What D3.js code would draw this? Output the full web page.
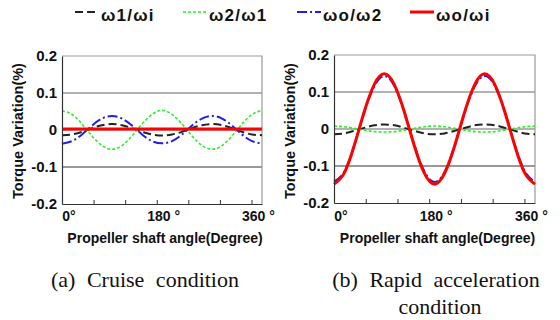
<!DOCTYPE html>
<meta charset="utf-8">
<style>
body { margin: 0; background: #fff; }
text { font-family: "Liberation Sans", Arial, sans-serif; }
.lbl { font-weight: bold; fill: #111; }
.cap { font-family: "Liberation Serif", "Times New Roman", serif; font-weight: normal; fill: #111; }
</style>
<body>
<script src="https://d3js.org/d3.v7.min.js"></script>
<script>
// sample angles (axis degrees)
var angles = [0, 19, 38, 57, 76, 95, 114, 133, 152, 171, 190, 209, 228, 247, 266, 285, 304, 323, 342, 361, 380];

// (a) cruise condition
var cruiseW1 = [-0.014, -0.012, -0.005, 0.005, 0.013, 0.016, 0.013, 0.005, -0.005, -0.012, -0.015, -0.012, -0.005, 0.005, 0.013, 0.016, 0.013, 0.005, -0.005, -0.012, -0.014];
var cruiseW2 = [0.052, 0.042, 0.016, -0.016, -0.042, -0.052, -0.042, -0.016, 0.016, 0.042, 0.053, 0.042, 0.016, -0.016, -0.042, -0.052, -0.042, -0.016, 0.016, 0.042, 0.053];
var cruiseWo2 = [-0.037, -0.030, -0.012, 0.012, 0.031, 0.038, 0.031, 0.012, -0.012, -0.030, -0.036, -0.030, -0.012, 0.012, 0.031, 0.038, 0.031, 0.012, -0.012, -0.030, -0.036];
var cruiseWoi = [0.003, 0.003, 0.003, 0.003, 0.003, 0.003, 0.003, 0.003, 0.003, 0.003, 0.003, 0.003, 0.003, 0.003, 0.003, 0.003, 0.003, 0.003, 0.003, 0.003, 0.003];

// (b) rapid acceleration
var rapidW1 = [-0.014, -0.012, -0.005, 0.003, 0.010, 0.012, 0.010, 0.003, -0.005, -0.012, -0.014, -0.012, -0.005, 0.003, 0.010, 0.012, 0.010, 0.003, -0.005, -0.012, -0.014];
var rapidW2 = [0.008, 0.006, 0.002, -0.003, -0.007, -0.008, -0.007, -0.003, 0.002, 0.006, 0.008, 0.006, 0.002, -0.003, -0.007, -0.008, -0.007, -0.003, 0.002, 0.006, 0.008];
var rapidWo2 = [-0.142, -0.116, -0.045, 0.044, 0.115, 0.143, 0.116, 0.045, -0.044, -0.115, -0.143, -0.116, -0.045, 0.044, 0.115, 0.143, 0.116, 0.045, -0.044, -0.115, -0.143];
var rapidWoi = [-0.149, -0.120, -0.046, 0.046, 0.120, 0.149, 0.120, 0.046, -0.046, -0.120, -0.149, -0.120, -0.046, 0.046, 0.120, 0.149, 0.120, 0.046, -0.046, -0.120, -0.149];

var seriesNames = ["ω1/ωi", "ω2/ω1", "ωo/ω2", "ωo/ωi"];
var yTicks = [-0.2, -0.1, 0, 0.1, 0.2];
var yTickLabels = ["-0.2", "-0.1", "0", "0.1", "0.2"];
var xTicks = [0, 60, 120, 180, 240, 300, 360];
var xLabelTicks = [0, 180, 360];
var xTickLabels = ["0°", "180 °", "360 °"];

var styles = [
  {color: "#222", width: 2, dash: "8,4"},
  {color: "#2af02a", width: 1.6, dash: "3,2"},
  {color: "#1f1fe6", width: 2, dash: "10,3,2,3"},
  {color: "#ff0000", width: 3, dash: null}
];

var svg = d3.select("body").append("svg")
    .attr("width", 560)
    .attr("height", 320);

// legend
var legX = [75, 183, 297, 410];
var leg = svg.append("g");
seriesNames.forEach(function(n, i) {
  var s = styles[i];
  leg.append("line")
    .attr("x1", legX[i]).attr("x2", legX[i] + 24)
    .attr("y1", 12).attr("y2", 12)
    .attr("stroke", s.color).attr("stroke-width", s.width)
    .attr("stroke-dasharray", s.dash);
  leg.append("text").attr("class", "lbl")
    .attr("x", legX[i] + 26).attr("y", 21)
    .style("font-size", "17px")
    .style("letter-spacing", "1.2px")
    .text(n);
});

function panel(box, data, caption) {
  var x = d3.scaleLinear().domain([0, 380]).range([box.left, box.left + box.w]);
  var y = d3.scaleLinear().domain([-0.2, 0.2]).range([box.top + box.h, box.top]);
  var g = svg.append("g");

  // grid lines
  g.selectAll(".grid").data([-0.1, 0, 0.1]).enter().append("line")
    .attr("x1", box.left).attr("x2", box.left + box.w)
    .attr("y1", function(d) { return y(d); }).attr("y2", function(d) { return y(d); })
    .attr("stroke", function(d) { return d == -0.1 ? "#333" : "#666"; })
    .attr("stroke-width", 1.2);

  // frame top/right
  g.append("path")
    .attr("d", "M" + box.left + "," + box.top + "H" + (box.left + box.w) + "V" + (box.top + box.h))
    .attr("fill", "none").attr("stroke", "#999").attr("stroke-width", 1.2);

  // curves
  var line = d3.line()
    .x(function(d) { return x(d[0]); })
    .y(function(d) { return y(d[1]); })
    .curve(d3.curveNatural);
  data.forEach(function(vals, i) {
    var s = styles[i];
    g.append("path")
      .datum(angles.map(function(a, k) { return [a, vals[k]]; }))
      .attr("d", line)
      .attr("fill", "none")
      .attr("stroke", s.color)
      .attr("stroke-width", s.width)
      .attr("stroke-dasharray", s.dash);
  });

  // y axis
  var ya = g.append("g")
    .attr("transform", "translate(" + box.left + ",0)")
    .call(d3.axisLeft(y).tickValues(yTicks).tickSize(0).tickPadding(5)
      .tickFormat(function(d, i) { return yTickLabels[i]; }));
  ya.select(".domain").attr("stroke", "#333").attr("stroke-width", 1.2);
  ya.selectAll("text").attr("class", "lbl").style("font-size", "15px").attr("fill", "#111");

  // x axis, ticks inward
  var xa = g.append("g")
    .attr("transform", "translate(0," + (box.top + box.h) + ")")
    .call(d3.axisBottom(x).tickValues(xTicks).tickSizeInner(-4).tickSizeOuter(0).tickFormat(""));
  xa.select(".domain").attr("stroke", "#333").attr("stroke-width", 1.2);
  xa.selectAll("line").attr("stroke", "#333");
  g.selectAll(".xl").data(xLabelTicks).enter().append("text")
    .attr("class", "lbl")
    .attr("x", function(d) { return x(d) + 7; })
    .attr("y", 221)
    .attr("text-anchor", "middle")
    .style("font-size", "14px")
    .text(function(d, i) { return xTickLabels[i]; });

  // axis titles
  g.append("text").attr("class", "lbl")
    .attr("x", box.left + box.w / 2 + 3).attr("y", 243)
    .attr("text-anchor", "middle")
    .style("font-size", "14px")
    .text("Propeller shaft angle(Degree)");
  g.append("text").attr("class", "lbl")
    .attr("transform", "translate(" + (box.left - 39) + ",131) rotate(-90)")
    .attr("text-anchor", "middle")
    .style("font-size", "14.5px")
    .text("Torque Variation(%)");

  // caption
  caption.forEach(function(c) {
    g.append("text").attr("class", "cap")
      .attr("x", c.x).attr("y", c.y)
      .attr("text-anchor", "middle")
      .style("font-size", "22px")
      .style("word-spacing", "6px")
      .text(c.t);
  });
}

panel({left: 62, top: 56, w: 200, h: 148},
  [cruiseW1, cruiseW2, cruiseWo2, cruiseWoi],
  [{x: 145, y: 287, t: "(a) Cruise condition"}]);
panel({left: 334, top: 55, w: 201, h: 148},
  [rapidW1, rapidW2, rapidWo2, rapidWoi],
  [{x: 436, y: 287, t: "(b) Rapid acceleration"}, {x: 440, y: 314, t: "condition"}]);
</script>
</body>
